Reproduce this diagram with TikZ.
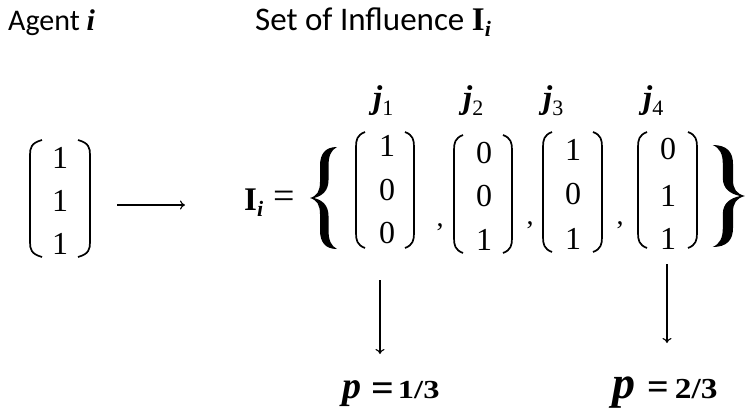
\documentclass[tikz,border=0pt]{standalone}
\usepackage{fontspec}
\usepackage{graphicx}
\setmainfont{Carlito}
\newfontfamily\tnr{Liberation Serif}
\usetikzlibrary{arrows.meta}
\newcommand{\fs}[1]{\fontsize{#1}{#1}\selectfont}
% left paren: xl, xr, top, bottom
\newcommand{\lparen}[4]{\draw[delim] (#2,#3) .. controls (#1+1,#3+3) and (#1,#3+8) .. (#1,#3+15) -- (#1,#4-15) .. controls (#1,#4-8) and (#1+1,#4-3) .. (#2,#4);}
\newcommand{\rparen}[4]{\draw[delim] (#1,#3) .. controls (#2-1,#3+3) and (#2,#3+8) .. (#2,#3+15) -- (#2,#4-15) .. controls (#2,#4-8) and (#2-1,#4-3) .. (#1,#4);}
\tikzset{curlybrace/.pic={
  \fill (27,-51) .. controls (15,-51) and (10,-44) .. (10,-32) -- (10,-16)
    .. controls (10,-7) and (7,-2) .. (0,0)
    .. controls (7,2) and (10,7) .. (10,16) -- (10,32)
    .. controls (10,44) and (15,51) .. (27,51)
    .. controls (21,48) and (18.5,42) .. (18.5,32) -- (18.5,18)
    .. controls (18.5,7) and (12,2) .. (4,0)
    .. controls (12,-2) and (18.5,-7) .. (18.5,-18) -- (18.5,-32)
    .. controls (18.5,-42) and (21,-48) .. (27,-51) -- cycle;
}}
\begin{document}
\begin{tikzpicture}[x=1pt,y=-1pt,
  delim/.style={line width=1.7pt},
  arr/.style={line width=1.1pt,-{To[length=5pt,width=9pt]}},
  ent/.style={inner sep=0pt,font=\tnr\fs{32}},
  lbl/.style={inner sep=0pt,anchor=base west},
  commanode/.style={inner sep=0pt,font=\tnr\fs{28}}]
\useasboundingbox (0,0) rectangle (745,413);
% headers
\node[lbl,font=\fs{30}] (agent) at (8,30) {Agent {\tnr\bfseries\itshape i}};
\node[lbl,font=\fs{33}] (soi) at (255,30) {Set of Influence {\tnr\bfseries I}\raisebox{-6pt}{\tnr\bfseries\itshape\fs{22}i}};
% agent vector
\lparen{30}{42}{140}{257}
\rparen{78}{90}{140}{257}
\node[ent] (a11) at (60,158) {1};
\node[ent] (a12) at (60,201) {1};
\node[ent] (a13) at (60,244) {1};
% arrow
\coordinate (arA) at (117,205);
\coordinate (arB) at (185,205);
\draw[arr] (arA) -- (arB);
% I_i =
\node[lbl] (Ii) at (244,210) {{\tnr\bfseries\fs{33}I}\raisebox{-6pt}{\tnr\bfseries\itshape\fs{22}i}};
\node[inner sep=0pt,font=\tnr\fs{38}] (eq) at (284,200) {=};
% braces
\pic (lbr) at (310,198) {curlybrace};
\pic[xscale=-1.2] (rbr) at (745,196) {curlybrace};
% j1
\lparen{356}{365}{132}{248}
\rparen{405}{414}{132}{248}
\node[ent] (e11) at (387,146) {1};
\node[ent] (e12) at (387,190) {0};
\node[ent] (e13) at (387,233) {0};
\node[commanode] (c1) at (440,227) {,};
% j2
\lparen{454}{463}{135}{253}
\rparen{503}{512}{135}{253}
\node[ent] (e21) at (484,153) {0};
\node[ent] (e22) at (484,196) {0};
\node[ent] (e23) at (484,240) {1};
\node[commanode] (c2) at (530,225) {,};
% j3
\lparen{543}{552}{132}{252}
\rparen{593}{602}{132}{252}
\node[ent] (e31) at (573,150) {1};
\node[ent] (e32) at (573,194) {0};
\node[ent] (e33) at (573,239) {1};
\node[commanode] (c3) at (620,225) {,};
% j4
\lparen{638}{647}{132}{248}
\rparen{688}{697}{132}{248}
\node[ent] (e41) at (668,149) {0};
\node[ent] (e42) at (668,196) {1};
\node[ent] (e43) at (668,239) {1};
% j labels
\node[lbl] (j1) at (373,108) {{\tnr\bfseries\itshape\fs{33}j}\raisebox{-7pt}{\tnr\fs{22}1}};
\node[lbl] (j2) at (463,108) {{\tnr\bfseries\itshape\fs{33}j}\raisebox{-7pt}{\tnr\fs{22}2}};
\node[lbl] (j3) at (543,108) {{\tnr\bfseries\itshape\fs{33}j}\raisebox{-7pt}{\tnr\fs{22}3}};
\node[lbl] (j4) at (643,108) {{\tnr\bfseries\itshape\fs{33}j}\raisebox{-7pt}{\tnr\fs{22}4}};
% down arrows
\coordinate (d1a) at (380,280);
\coordinate (d1b) at (380,354);
\draw[arr] (d1a) -- (d1b);
\coordinate (d4a) at (667,264);
\coordinate (d4b) at (667,343);
\draw[arr] (d4a) -- (d4b);
% probabilities
\node[lbl] (p1) at (342,398) {{\tnr\bfseries\itshape\fs{38}p}\hspace{10pt}\raisebox{-3pt}{\tnr\bfseries\fs{40}=}\hspace{4pt}\scalebox{1.25}[1]{\tnr\bfseries\fs{26}1/3}};
\node[lbl] (p2) at (612,398) {{\tnr\bfseries\itshape\fs{46}p}\hspace{12pt}\raisebox{-1pt}{\tnr\bfseries\fs{38}=}\hspace{6pt}\scalebox{1.15}[1]{\tnr\bfseries\fs{29}2/3}};
\end{tikzpicture}
\end{document}
